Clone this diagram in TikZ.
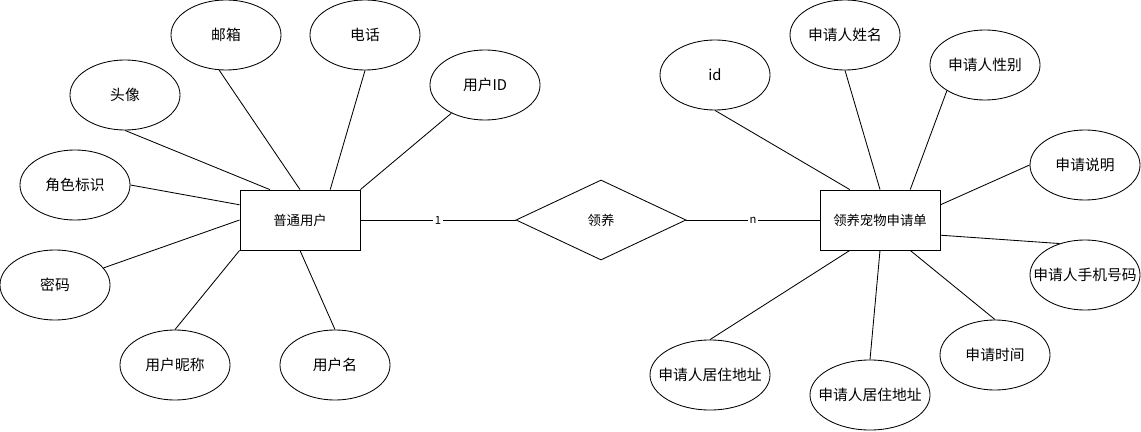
\documentclass[tikz,border=0pt]{standalone}
\usepackage{fontspec}
\newfontfamily\cjk{Noto Sans CJK SC}
\usetikzlibrary{shapes.geometric,calc}
\tikzset{
  attr/.style={draw, ellipse, minimum width=2.75cm, minimum height=1.75cm, inner xsep=-10pt, inner ysep=0pt, font=\cjk\fontsize{10.5}{12}\selectfont},
  wideattr/.style={attr, minimum width=3cm},
  entity/.style={draw, rectangle, minimum width=3cm, minimum height=1.5cm, inner sep=0pt, font=\cjk\fontsize{9.5}{11}\selectfont},
  rel/.style={draw, diamond, aspect=2.125, minimum width=4.25cm, minimum height=2cm, inner sep=0pt, font=\cjk\fontsize{9.5}{11}\selectfont},
  card/.style={fill=white, inner sep=1pt, font=\cjk\fontsize{8}{9}\selectfont}
}

\begin{document}
\begin{tikzpicture}[x=0.025cm, y=-0.025cm, line width=0.6pt]
\useasboundingbox (0, 0) rectangle (1141, 432);
\node [entity] (user) at (300, 220) {普通用户};
\node [rel] (adopt) at (601, 220) {领养};
\node [entity] (app) at (880, 220) {领养宠物申请单};

\node [attr] (email) at (226, 35) {邮箱};
\node [attr] (phone) at (365, 35) {电话};
\node [attr] (avatar) at (125, 95) {头像};
\node [attr] (userid) at (485, 85) {用户ID};
\node [attr] (role) at (75, 185) {角色标识};
\node [attr] (pwd) at (55, 285) {密码};
\node [attr] (nick) at (175, 365) {用户昵称};
\node [attr] (uname) at (335, 365) {用户名};

\node [attr] (appid) at (715, 75) {id};
\node [attr] (name) at (845, 35) {申请人姓名};
\node [attr] (gender) at (985, 65) {申请人性别};
\node [attr] (desc) at (1085, 165) {申请说明};
\node [attr] (mobile) at (1085, 275) {申请人手机号码};
\node [attr] (time) at (995, 355) {申请时间};
\node [wideattr] (addra) at (710, 375) {申请人居住地址};
\node [wideattr] (addrb) at (870, 395) {申请人居住地址};

\draw (avatar.south) -- ($(user.north west)!0.25!(user.north east)$);
\draw (email.259) -- (user.north);
\draw (phone.south) -- ($(user.north west)!0.75!(user.north east)$);
\draw (userid) -- (user.north east);
\draw (role.east) -- ($(user.north west)!0.25!(user.south west)$);
\draw (pwd) -- (user.west);
\draw (nick.north) -- (user.south west);
\draw (uname.north) -- (user.south);

\draw (appid.south) -- ($(app.north west)!0.25!(app.north east)$);
\draw (name.south) -- (app.north);
\draw (gender.214) -- ($(app.north west)!0.75!(app.north east)$);
\draw (desc.west) -- ($(app.north east)!0.25!(app.south east)$);
\draw (mobile.129) -- ($(app.north east)!0.75!(app.south east)$);
\draw (time.north) -- ($(app.south west)!0.75!(app.south east)$);
\draw (addrb.north) -- (app.south);
\draw (addra.north) -- ($(app.south west)!0.25!(app.south east)$);

\draw (user.east) -- node [card] {1} (adopt.west);
\draw (adopt.east) -- node [card] {n} (app.west);
\end{tikzpicture}
\end{document}
